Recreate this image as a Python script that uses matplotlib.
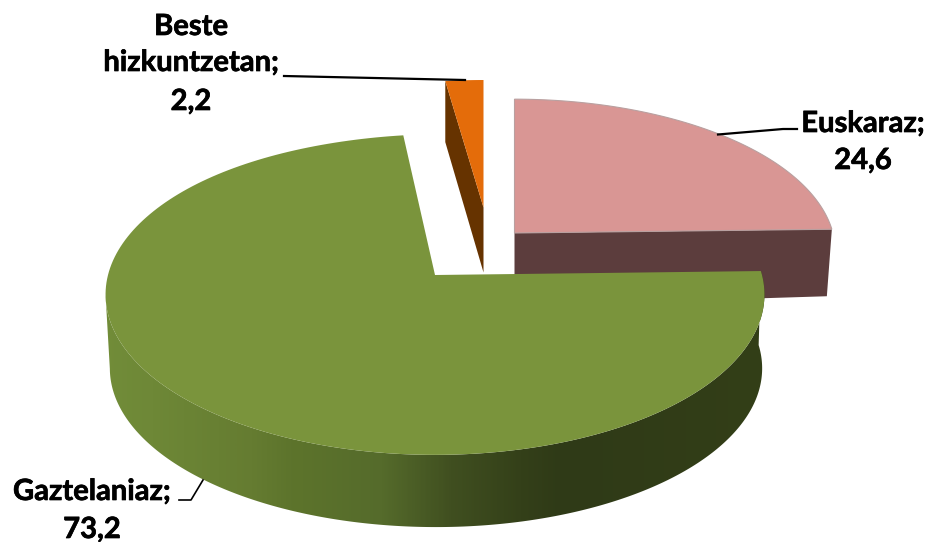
import numpy as np
import matplotlib
matplotlib.use("Agg")
import matplotlib.pyplot as plt
import matplotlib.patheffects as pe
from matplotlib.colors import LinearSegmentedColormap
from matplotlib.patches import Polygon

categories = ["Euskaraz", "Gaztelaniaz", "Beste\nhizkuntzetan"]
values = [24.6, 73.2, 2.2]
value_labels = ["24,6", "73,2", "2,2"]

top_colors = ["#D99694", "#7A943C", "#E46C0A"]
side_colors = ["#5C3D3D", "#4F6228", "#663300"]
apex_px = [(514.5, 233), (435, 275), (483.5, 207.5)]
scale = [0.95, 1.0, 0.905]
x_stretch = [1.025, 1.0, 1.05]
back_bend = [0.0, 9.0, 0.0]
depth = [67, 74, 65]

RX, RY, K = 327.0, 158.0, 0.1216

def project(theta_deg, i, drop=0.0, shrink=1.0, shift=0.0):
    cx, cy = apex_px[i]
    s = scale[i]
    t = np.radians(theta_deg)
    u, v = np.cos(t), np.sin(t)
    w = 1 + K * v
    bend = back_bend[i] * np.clip(v, 0, 1) ** 6
    return np.column_stack([cx + shift + bend + x_stretch[i] * s * shrink * RX * u / w,
                            cy + drop - s * shrink * RY * v / w])

fig = plt.figure(figsize=(9.28, 5.42), dpi=100)
ax = fig.add_axes([0, 0, 1, 1])
ax.set_xlim(0, 928)
ax.set_ylim(542, 0)
ax.axis("off")

fr = np.array(values) / sum(values) * 360
ends = 90 - np.cumsum(fr)
starts = ends + fr
arcs = [np.linspace(a, b, 200) for a, b in zip(starts, ends)]

# Euskaraz: flat cut wall + top
pts = project(arcs[0], 0)
right = pts[-1]
ax.add_patch(Polygon([apex_px[0], right, right + [-5, depth[0]],
                      (apex_px[0][0], apex_px[0][1] + depth[0] + 6)],
                     fc=side_colors[0], ec="none", zorder=1))
ax.add_patch(Polygon(np.vstack([apex_px[0], pts]), fc=top_colors[0],
                     ec="#B9A0A0", lw=0.8, zorder=2))

# Beste: cut wall + top
pts = project(arcs[2], 2)
left = pts[0]
ax.add_patch(Polygon([left, left + [0, 61], (apex_px[2][0], apex_px[2][1] + depth[2]),
                      apex_px[2]], fc=side_colors[2], ec="none", zorder=1))
ax.add_patch(Polygon(np.vstack([apex_px[2], pts]), fc=top_colors[2], ec="none", zorder=2))

# Gaztelaniaz: shaded outer wall + top
shade = LinearSegmentedColormap.from_list(
    "wall",
    [(0.0, "#728D39"), (0.075, "#6E8837"), (0.225, "#657C31"), (0.285, "#5D742C"),
     (0.42, "#556B2B"), (0.525, "#404F20"), (0.63, "#344019"), (0.69, "#2F3A17"),
     (1.0, "#333F18")])
th = np.linspace(arcs[1][0], arcs[1][-1], 500)
th = th[(th <= 1.5) & (th >= -173)]
upper = project(th, 1)
lower = project(th, 1, drop=depth[1], shrink=0.99, shift=1.0)
wall = Polygon(np.vstack([upper, lower[::-1]]), fc="none", ec="none",
               transform=ax.transData, zorder=3)
ax.add_patch(wall)
img = ax.imshow(np.linspace(0, 1, 400)[None, :], cmap=shade, vmin=0, vmax=1,
                extent=(100, 770, 542, 250), aspect="auto", zorder=3,
                interpolation="bilinear")
img.set_clip_path(wall)
ax.set_xlim(0, 928)
ax.set_ylim(542, 0)
pts = project(arcs[1], 1)
ax.add_patch(Polygon(np.vstack([apex_px[1], pts]), fc=top_colors[1], ec="none", zorder=4))

# Leader lines
ax.plot([284, 465], [76, 80], color="black", lw=1.6, zorder=5)
ax.plot([797, 783, 718], [129, 129, 134.5], color="black", lw=1.6, zorder=5)
ax.plot([179, 191, 203], [500, 500, 480], color="black", lw=1.2, zorder=5)

# Labels
tk = dict(family="Lato", fontweight="bold", fontsize=21, color="black",
          ha="center", va="center", linespacing=1.0,
          path_effects=[pe.withStroke(linewidth=0.5, foreground="black")])
ax.text(863, 124, categories[0] + ";", **tk)
ax.text(863, 161, value_labels[0], **tk)
ax.text(92, 492, categories[1] + ";", **tk)
ax.text(92, 530, value_labels[1], **tk)
ax.text(191, 27, "Beste", **tk)
ax.text(191, 63, "hizkuntzetan;", **tk)
ax.text(191, 102, value_labels[2], **tk)

fig.savefig("out.png", dpi=100)
